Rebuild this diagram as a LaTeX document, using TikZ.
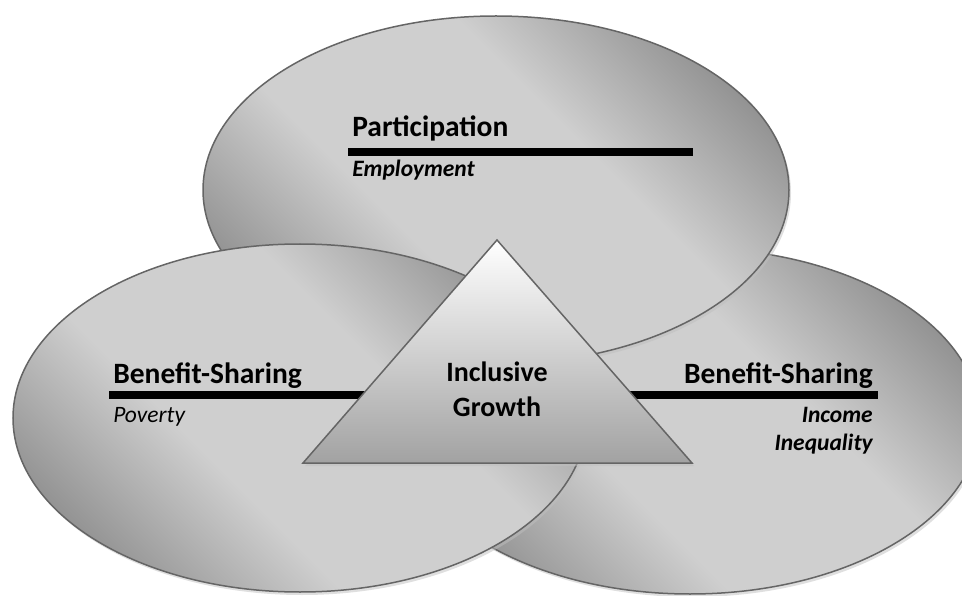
\documentclass[tikz,border=0pt]{standalone}
\usepackage{fontspec}
\setmainfont{Carlito}
\usepackage{tikz}
\usetikzlibrary{positioning}
\usetikzlibrary{shapes.geometric}
\usetikzlibrary{shadows}

\definecolor{ovaldark}{HTML}{787878}
\definecolor{ovallight}{HTML}{CFCFCF}
\definecolor{rim}{HTML}{656565}
\definecolor{trilow}{HTML}{A2A2A2}

% broad light band, dark only towards two corners
\pgfdeclarehorizontalshading{ovalshade}{100bp}{
    color(0bp)=(ovaldark); color(17bp)=(ovaldark);
    color(40bp)=(ovallight); color(60bp)=(ovallight);
    color(83bp)=(ovaldark); color(100bp)=(ovaldark)}

\begin{document}
\begin{tikzpicture}[
            x = 1pt, y = -1pt, % pixel units, y pointing down
            semithick % line style
        ]

        \tikzstyle{oval}=[
            ellipse,
            draw = rim,
            line width = 1.5pt,
            shading = ovalshade,
            shading angle = 45,
            drop shadow = {shadow xshift = 2pt, shadow yshift = -3pt, fill = black!25},
            inner sep = 0pt
        ]
        \tikzstyle{tri}=[
            draw = rim,
            line width = 1.5pt,
            top color = white,
            bottom color = trilow,
            drop shadow = {shadow xshift = 2pt, shadow yshift = -3pt, fill = black!25}
        ]
        \tikzstyle{head}=[font = \fontsize{29.5}{35}\selectfont\bfseries, inner sep = 0pt]
        \tikzstyle{sub}=[font = \fontsize{23.5}{28}\selectfont\itshape, inner sep = 0pt]
        \tikzstyle{bar}=[line width = 8pt]

        \useasboundingbox (0,0) rectangle (962,596);

	% THE THREE OVALS (BACK TO FRONT)
        \node[oval, minimum width = 580pt, minimum height = 346pt] (R) at (690,421) {};
        \node[oval, minimum width = 586pt, minimum height = 348pt] (T) at (496,190) {};
        \node[oval, minimum width = 574pt, minimum height = 348pt] (L) at (300,418) {};

	% PARTICIPATION
        \coordinate (T1) at (348,152);
        \coordinate (T2) at (693,152);
        \draw[bar] (T1) -- (T2);
        \node[head, anchor = base west] (TH) at (352,137) {Participation};
        \node[sub, anchor = base west] (TS) at (352,177) {\bfseries Employment};

	% BENEFIT-SHARING, LEFT
        \coordinate (L1) at (109,395);
        \coordinate (L2) at (380,395);
        \draw[bar] (L1) -- (L2);
        \node[head, anchor = base west] (LH) at (113,383) {Benefit-Sharing};
        \node[sub, anchor = base west] (LS) at (113,422) {Poverty};

	% BENEFIT-SHARING, RIGHT
        \coordinate (R1) at (615,395);
        \coordinate (R2) at (878,395);
        \draw[bar] (R1) -- (R2);
        \node[head, anchor = base east] (RH) at (873,383) {Benefit-Sharing};
        \node[sub, anchor = base east] (RS) at (873,422) {\bfseries Income};
        \node[sub, anchor = base east] (RS2) at (873,450) {\bfseries Inequality};

	% INCLUSIVE GROWTH
        \coordinate (A) at (497,240);
        \coordinate (B) at (303,463);
        \coordinate (C) at (692,463);
        \draw[tri] (A) -- (B) -- (C) -- cycle;
        \node[font = \fontsize{28}{35}\selectfont\bfseries, align = center, inner sep = 0pt] (G) at (497,389) {Inclusive\\Growth};

  \end{tikzpicture}
\end{document}
